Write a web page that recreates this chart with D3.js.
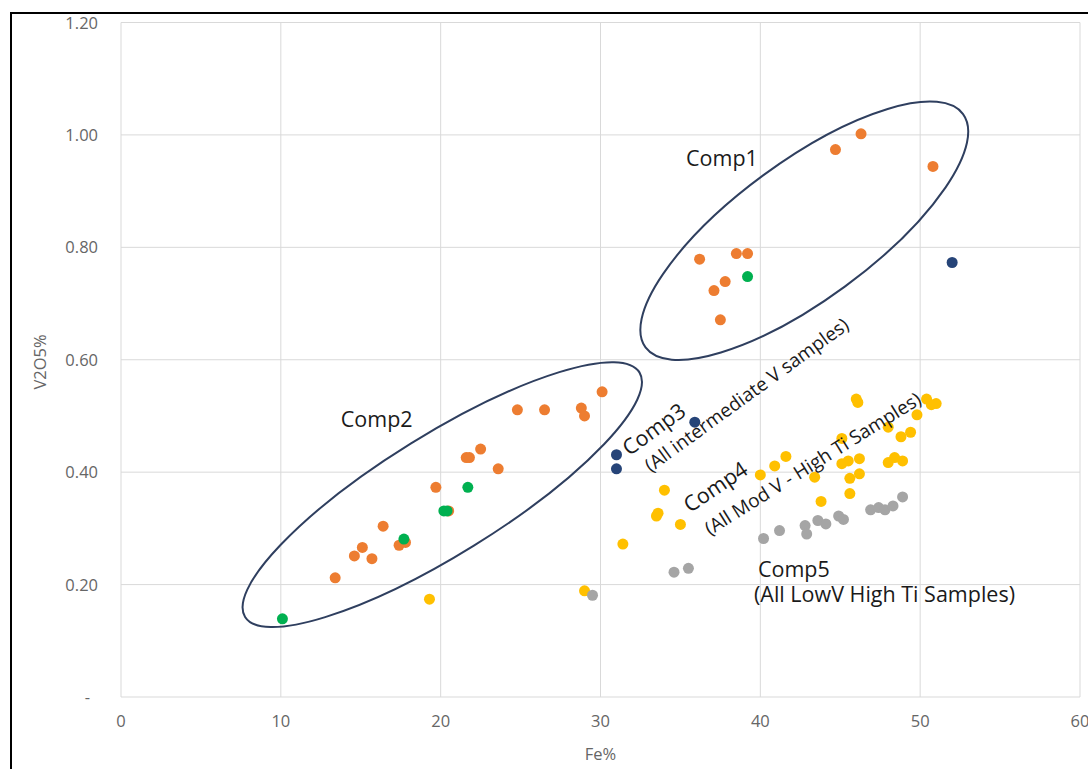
<!DOCTYPE html>
<html>
<head>
<meta charset="utf-8">
<script src="https://cdn.jsdelivr.net/npm/d3@7"></script>
<style>
  body { margin: 0; background: #fff; }
  text { font-family: "Open Sans", sans-serif; }
</style>
</head>
<body>
<div id="chart"></div>
<script>
// Fe% / V2O5% pairs per group
const orangePts = [
  [13.4, 0.212], [14.6, 0.251], [15.1, 0.266], [15.7, 0.246], [16.4, 0.304],
  [17.4, 0.270], [17.8, 0.275], [19.7, 0.373], [20.5, 0.331], [21.6, 0.426],
  [21.8, 0.426], [22.5, 0.441], [23.6, 0.406], [24.8, 0.511], [26.5, 0.511],
  [28.8, 0.514], [29.0, 0.500], [30.1, 0.543],
  [36.2, 0.779], [37.1, 0.723], [37.5, 0.671], [37.8, 0.739], [38.5, 0.789],
  [39.2, 0.789], [44.7, 0.974], [46.3, 1.002], [50.8, 0.944]
];
const greenPts = [
  [10.1, 0.139], [17.7, 0.281], [20.2, 0.331], [20.4, 0.331], [21.7, 0.373],
  [39.2, 0.748]
];
const navyPts = [
  [31.0, 0.406], [31.0, 0.431], [35.9, 0.489], [52.0, 0.773]
];
const yellowPts = [
  [19.3, 0.174], [29.0, 0.189], [31.4, 0.272], [33.5, 0.322], [33.6, 0.327],
  [34.0, 0.368], [35.0, 0.307], [40.0, 0.395], [40.9, 0.411], [41.6, 0.428],
  [43.4, 0.391], [43.8, 0.348], [45.1, 0.460], [45.1, 0.415], [45.5, 0.420],
  [45.6, 0.389], [45.6, 0.362], [46.0, 0.530], [46.1, 0.524], [46.2, 0.424],
  [46.2, 0.397], [48.0, 0.480], [48.0, 0.417], [48.4, 0.426], [48.8, 0.463],
  [48.9, 0.420], [49.4, 0.471], [49.8, 0.502], [50.4, 0.530], [50.7, 0.520],
  [51.0, 0.522]
];
const grayPts = [
  [29.5, 0.181], [34.6, 0.222], [35.5, 0.229], [40.2, 0.282], [41.2, 0.296],
  [42.8, 0.305], [42.9, 0.290], [43.6, 0.314], [44.1, 0.308], [44.9, 0.322],
  [45.2, 0.316], [46.9, 0.333], [47.4, 0.337], [47.8, 0.333], [48.3, 0.340],
  [48.9, 0.356]
];

const xTicks = [0, 10, 20, 30, 40, 50, 60];
const yTicks = [0, 0.2, 0.4, 0.6, 0.8, 1.0, 1.2];

// group labels: [Fe%, V2O5%, rotation, text]
const labels = [
  [35.35, 0.945, 0, "Comp1"],
  [13.75, 0.481, 0, "Comp2"],
  [31.8, 0.428, -36, "Comp3"],
  [33.15, 0.399, -36, "(All intermediate V samples)"],
  [35.6, 0.327, -34, "Comp4"],
  [36.85, 0.287, -32, "(All Mod V - High Ti Samples)"],
  [39.85, 0.214, 0, "Comp5"],
  [39.6, 0.169, 0, "(All LowV High Ti Samples)"]
];

// hand-drawn ellipses round Comp1 and Comp2: centre in data units
const ellipses = [
  { fe: 42.75, v: 0.8295, rx: 197, ry: 69, angle: -36.3 },
  { fe: 20.1, v: 0.360, rx: 232, ry: 60, angle: -31.8 }
];

const width = 1088, height = 769;
const plot = { left: 121, right: 1080, top: 22.5, bottom: 697 };

const svg = d3.select("#chart").append("svg")
  .attr("width", width)
  .attr("height", height);

svg.append("rect").attr("width", width).attr("height", height).attr("fill", "#fff");

const x = d3.scaleLinear().domain([0, 60]).range([plot.left, plot.right]);
const y = d3.scaleLinear().domain([0, 1.2]).range([plot.bottom, plot.top]);

// grid
svg.append("g").selectAll("line")
  .data(xTicks)
  .join("line")
  .attr("x1", d => x(d)).attr("x2", d => x(d))
  .attr("y1", plot.top).attr("y2", plot.bottom)
  .attr("stroke", "#d9d9d9").attr("stroke-width", 1);

svg.append("g").selectAll("line")
  .data(yTicks)
  .join("line")
  .attr("x1", plot.left).attr("x2", plot.right)
  .attr("y1", d => y(d)).attr("y2", d => y(d))
  .attr("stroke", "#d9d9d9").attr("stroke-width", 1);

// tick labels
svg.append("g").selectAll("text")
  .data(xTicks)
  .join("text")
  .attr("x", d => x(d))
  .attr("y", 727)
  .attr("text-anchor", "middle")
  .attr("font-size", "16.5px")
  .attr("fill", "#666")
  .text(d => d);

svg.append("g").selectAll("text")
  .data(yTicks)
  .join("text")
  .attr("x", d => d === 0 ? 90 : 98)
  .attr("y", d => y(d) + 6)
  .attr("text-anchor", "end")
  .attr("font-size", "16.5px")
  .attr("fill", "#666")
  .text(d => d === 0 ? "-" : d.toFixed(2));

// axis titles
svg.append("text")
  .attr("x", x(30))
  .attr("y", 760)
  .attr("text-anchor", "middle")
  .attr("font-size", "16.5px")
  .attr("fill", "#666")
  .text("Fe%");

svg.append("text")
  .attr("transform", `translate(46, 362) rotate(-90)`)
  .attr("text-anchor", "middle")
  .attr("font-size", "16.5px")
  .attr("fill", "#666")
  .text("V2O5%");

// points
const series = [
  [orangePts, "#ed7d31"],
  [greenPts, "#00b050"],
  [navyPts, "#264478"],
  [yellowPts, "#ffc000"],
  [grayPts, "#a5a5a5"]
];
series.forEach(([pts, color]) => {
  svg.append("g").selectAll("circle")
    .data(pts)
    .join("circle")
    .attr("cx", d => x(d[0]))
    .attr("cy", d => y(d[1]))
    .attr("r", 5.5)
    .attr("fill", color);
});

// ellipses
svg.append("g").selectAll("ellipse")
  .data(ellipses)
  .join("ellipse")
  .attr("transform", d => `translate(${x(d.fe)}, ${y(d.v)}) rotate(${d.angle})`)
  .attr("rx", d => d.rx)
  .attr("ry", d => d.ry)
  .attr("fill", "none")
  .attr("stroke", "#2f3f5f")
  .attr("stroke-width", 2);

// labels (the slanted sub-captions were a touch smaller in the original)
svg.append("g").selectAll("text")
  .data(labels)
  .join("text")
  .attr("transform", d => `translate(${x(d[0])}, ${y(d[1])}) rotate(${d[2]})`)
  .attr("font-size", d => (d[2] !== 0 && d[3].startsWith("(")) ? "19px" : "21.5px")
  .attr("fill", "#1a1a1a")
  .text(d => d[3]);

// outer frame (cropped at right and bottom)
svg.append("path")
  .attr("d", "M11,769 V13 H1088")
  .attr("fill", "none")
  .attr("stroke", "#000")
  .attr("stroke-width", 2);
</script>
</body>
</html>
